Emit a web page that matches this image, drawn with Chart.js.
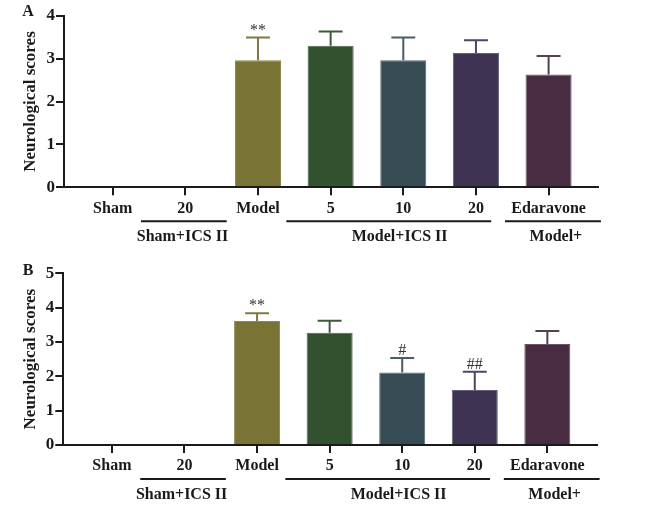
<!DOCTYPE html>
<html><head><meta charset="utf-8">
<script src="https://cdn.jsdelivr.net/npm/chart.js@4"></script>
<style>
html,body{margin:0;padding:0;background:#fff;}
#wrap{position:relative;width:648px;height:516px;background:#fff;}
.pane{position:absolute;left:0;width:648px;}
</style></head><body>
<div id="wrap">
  <div class="pane" style="top:0;height:250px"><canvas id="ca" width="648" height="250"></canvas></div>
  <div class="pane" style="top:250px;height:266px"><canvas id="cb" width="648" height="266"></canvas></div>
</div>
<script>
// ---- data ----
const categories = ['Sham', '20', 'Model', '5', '10', '20', 'Edaravone'];
const groupLabels = ['Sham+ICS II', 'Model+ICS II', 'Model+'];
const yTitle = 'Neurological scores';
const scoresA = [0, 0, 2.96, 3.30, 2.96, 3.13, 2.63];
const errorsA = [0, 0, 0.53, 0.33, 0.53, 0.30, 0.43];
const marksA  = ['', '', '**', '', '', '', ''];
const yTicksA = [0, 1, 2, 3, 4];
const scoresB = [0, 0, 3.61, 3.27, 2.11, 1.60, 2.94];
const errorsB = [0, 0, 0.23, 0.35, 0.42, 0.53, 0.38];
const marksB  = ['', '', '**', '', '#', '##', ''];
const yTicksB = [0, 1, 2, 3, 4, 5];

// ---- style / layout ----
const barColors    = ['#7a7336', '#7a7336', '#7a7336', '#32512f', '#364b53', '#3e3353', '#472c42'];
const barEdges     = ['#8c8550', '#8c8550', '#8c8550', '#4a6648', '#56686f', '#6a5e80', '#6d5468'];
const errColors    = ['#7f7840', '#7f7840', '#7f7840', '#3e5a3b', '#4a5d64', '#4e4465', '#56404f'];
const groupSpans   = [[0.39, 1.57], [2.39, 5.21], [5.40, 6.72]];
const groupTextAt  = [0.96, 3.95, 6.10];
const SERIF = "'Liberation Serif', 'Times New Roman', serif";
const INK = '#1a1a1a';

function decor(letter, errors, marks) {
  return {
    id: 'decor' + letter,
    afterDatasetsDraw(chart) {
      const ctx = chart.ctx, xs = chart.scales.x, ys = chart.scales.y;
      const meta = chart.getDatasetMeta(0);
      ctx.save();
      meta.data.forEach((bar, i) => {
        const v = chart.data.datasets[0].data[i].y;
        if (!errors[i]) return;
        const cx = xs.getPixelForValue(i);
        const y0 = ys.getPixelForValue(v);
        const y1 = ys.getPixelForValue(v + errors[i]);
        const hw = bar.width * 0.26;
        ctx.strokeStyle = errColors[i];
        ctx.lineWidth = 2;
        ctx.beginPath();
        ctx.moveTo(cx, y0); ctx.lineTo(cx, y1);
        ctx.moveTo(cx - hw, y1); ctx.lineTo(cx + hw, y1);
        ctx.stroke();
        if (marks[i]) {
          ctx.fillStyle = '#333';
          ctx.font = '16px ' + SERIF;
          ctx.textAlign = 'center';
          ctx.textBaseline = 'alphabetic';
          ctx.fillText(marks[i], cx, y1 - 3);
        }
      });
      ctx.restore();
    },
    afterDraw(chart) {
      const ctx = chart.ctx, xs = chart.scales.x;
      const b = chart.chartArea.bottom;
      ctx.save();
      ctx.strokeStyle = INK;
      ctx.lineWidth = 2;
      ctx.fillStyle = INK;
      ctx.font = 'bold 16px ' + SERIF;
      ctx.textAlign = 'center';
      ctx.textBaseline = 'middle';
      groupLabels.forEach((g, k) => {
        ctx.beginPath();
        ctx.moveTo(xs.getPixelForValue(groupSpans[k][0]), b + 34);
        ctx.lineTo(xs.getPixelForValue(groupSpans[k][1]), b + 34);
        ctx.stroke();
        ctx.fillText(g, xs.getPixelForValue(groupTextAt[k]), b + 49.5);
      });
      ctx.fillText(letter, 28, letter === 'A' ? 12 : 21);
      ctx.restore();
    }
  };
}

function makeChart(id, letter, values, errors, marks, yTicks, dims) {
  return new Chart(document.getElementById(id), {
    type: 'bar',
    data: {
      datasets: [{
        data: values.map((v, i) => ({ x: i, y: v })),
        backgroundColor: barColors,
        borderColor: barEdges,
        borderWidth: 1,
        borderSkipped: 'start',
        barPercentage: 0.634,
        categoryPercentage: 1
      }]
    },
    options: {
      responsive: false,
      animation: false,
      events: [],
      layout: { padding: { top: dims.top, right: dims.right, left: 0, bottom: 0 } },
      plugins: { legend: { display: false }, tooltip: { enabled: false } },
      scales: {
        x: {
          type: 'linear', min: -0.67, max: 6.68, offset: false,
          afterBuildTicks: s => { s.ticks = categories.map((_, i) => ({ value: i })); },
          afterFit: s => { s.height = dims.xh; },
          ticks: { callback: v => categories[Math.round(v)], autoSkip: false, maxRotation: 0,
                   font: { family: SERIF, size: 16, weight: 'bold' }, color: INK, padding: 3.5 },
          grid: { offset: false, drawOnChartArea: false, drawTicks: true, tickLength: 8, color: INK, lineWidth: 2 },
          border: { display: true, color: INK, width: 2 }
        },
        y: {
          min: 0, max: yTicks[yTicks.length - 1],
          afterBuildTicks: s => { s.ticks = yTicks.map(v => ({ value: v })); },
          afterFit: s => { s.width = dims.left; },
          ticks: { font: { family: SERIF, size: 17, weight: 'bold' }, color: INK, padding: 1 },
          grid: { drawOnChartArea: false, drawTicks: true, tickLength: 8, color: INK, lineWidth: 2 },
          border: { display: true, color: INK, width: 2 },
          title: { display: true, text: yTitle, color: INK,
                   font: { family: SERIF, size: 17, weight: 'bold' }, padding: { top: 20, bottom: 0 } }
        }
      }
    },
    plugins: [decor(letter, errors, marks)]
  });
}

makeChart('ca', 'A', scoresA, errorsA, marksA, yTicksA, { top: 15.7, right: 50, left: 64, xh: 62.7 });
makeChart('cb', 'B', scoresB, errorsB, marksB, yTicksB, { top: 23.3, right: 51.3, left: 63.3, xh: 71 });
</script>
</body></html>
